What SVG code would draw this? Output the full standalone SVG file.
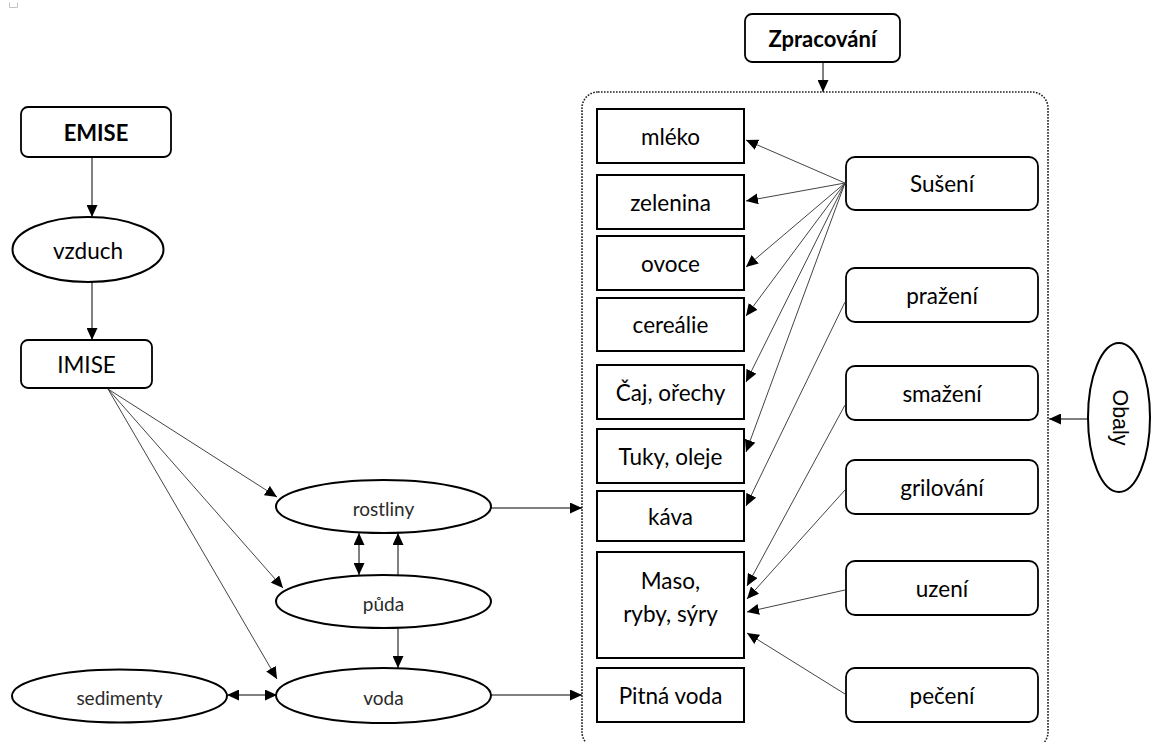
<svg xmlns="http://www.w3.org/2000/svg" width="1155" height="742" viewBox="0 0 1155 742">
  <style>
    .box { fill: #fff; stroke: #000; stroke-width: 2; }
    .rbox { fill: #fff; stroke: #000; stroke-width: 1.8; }
    .oval { fill: #fff; stroke: #000; stroke-width: 2; }
    .lbl { font-family: Lato, "Liberation Sans", sans-serif; font-size: 22.5px; fill: #000; text-anchor: middle; dominant-baseline: central; }
    .bold { font-weight: bold; font-size: 22px; }
    .small { font-size: 19px; fill: #2a2a2a; }
    .obaly { font-family: "Liberation Sans", Arial, sans-serif; font-size: 21.5px; fill: #000; text-anchor: middle; dominant-baseline: central; }
    .con { fill: none; stroke: #000; stroke-width: 1; }
    .thin { fill: none; stroke: #444; stroke-width: 1; }
    .frame { fill: none; stroke: #222; stroke-width: 1.6; stroke-dasharray: 1.6 1.4; }
  </style>
  <defs>
    <marker id="arr" markerUnits="userSpaceOnUse" markerWidth="12" markerHeight="11" refX="12" refY="5.5" orient="auto-start-reverse">
      <path d="M0,0 L12,5.5 L0,11 z" fill="#000"/>
    </marker>
  </defs>

  <rect width="1155" height="742" fill="#fff"/>
  <!-- small corner mark -->
  <path d="M9.5,2.5 V7.5 H17.5 V2.5" fill="none" stroke="#c4c4c4" stroke-width="1"/>

  <!-- processing frame -->
  <rect class="frame" x="582" y="92" width="466" height="656" rx="16"/>

  <!-- sources -->
  <g id="emise">
    <rect class="rbox" x="21" y="107" width="150" height="50" rx="7"/>
    <text class="lbl bold" x="96" y="132">EMISE</text>
  </g>
  <g id="vzduch">
    <ellipse class="oval" cx="88" cy="249.5" rx="75.5" ry="32.5"/>
    <text class="lbl" x="88" y="250">vzduch</text>
  </g>
  <g id="imise">
    <rect class="rbox" x="21" y="340" width="131" height="48" rx="7"/>
    <text class="lbl" x="86.5" y="364">IMISE</text>
  </g>
  <g id="rostliny">
    <ellipse class="oval" cx="383.5" cy="506.5" rx="107.5" ry="26.5"/>
    <text class="lbl small" x="383.5" y="508">rostliny</text>
  </g>
  <g id="puda">
    <ellipse class="oval" cx="383.5" cy="601.5" rx="107.5" ry="26.5"/>
    <text class="lbl small" x="383.5" y="603">půda</text>
  </g>
  <g id="sedimenty">
    <ellipse class="oval" cx="119.5" cy="696" rx="107.5" ry="26.5"/>
    <text class="lbl small" x="119.5" y="697">sedimenty</text>
  </g>
  <g id="voda">
    <ellipse class="oval" cx="383.5" cy="695.5" rx="107.5" ry="27.5"/>
    <text class="lbl small" x="383.5" y="697">voda</text>
  </g>

  <!-- processing header -->
  <g id="zpracovani">
    <rect class="rbox" x="745" y="14" width="155" height="48" rx="7"/>
    <text class="lbl bold" x="822.5" y="38">Zpracování</text>
  </g>

  <!-- food groups -->
  <g id="mleko">
    <rect class="box" x="597" y="109" width="147" height="54"/>
    <text class="lbl" x="670.5" y="136">mléko</text>
  </g>
  <g id="zelenina">
    <rect class="box" x="597" y="175" width="147" height="54"/>
    <text class="lbl" x="670.5" y="202">zelenina</text>
  </g>
  <g id="ovoce">
    <rect class="box" x="597" y="236" width="147" height="54"/>
    <text class="lbl" x="670.5" y="263">ovoce</text>
  </g>
  <g id="cerealie">
    <rect class="box" x="597" y="298" width="147" height="53"/>
    <text class="lbl" x="670.5" y="324.5">cereálie</text>
  </g>
  <g id="caj">
    <rect class="box" x="597" y="365" width="147" height="54"/>
    <text class="lbl" x="670.5" y="392">Čaj, ořechy</text>
  </g>
  <g id="tuky">
    <rect class="box" x="597" y="429" width="147" height="54"/>
    <text class="lbl" x="670.5" y="456">Tuky, oleje</text>
  </g>
  <g id="kava">
    <rect class="box" x="597" y="491" width="147" height="50"/>
    <text class="lbl" x="670.5" y="516">káva</text>
  </g>
  <g id="maso">
    <rect class="box" x="597" y="552" width="147" height="106"/>
    <text class="lbl" x="670.5" y="580">Maso,</text>
    <text class="lbl" x="670.5" y="613">ryby, sýry</text>
  </g>
  <g id="pitna">
    <rect class="box" x="597" y="668" width="147" height="54"/>
    <text class="lbl" x="670.5" y="695">Pitná voda</text>
  </g>

  <!-- processing methods -->
  <g id="suseni">
    <rect class="rbox" x="846" y="157" width="192" height="53" rx="9"/>
    <text class="lbl" x="942" y="183.5">Sušení</text>
  </g>
  <g id="prazeni">
    <rect class="rbox" x="846" y="268" width="192" height="54" rx="9"/>
    <text class="lbl" x="942" y="295">pražení</text>
  </g>
  <g id="smazeni">
    <rect class="rbox" x="846" y="366" width="192" height="54" rx="9"/>
    <text class="lbl" x="942" y="393">smažení</text>
  </g>
  <g id="grilovani">
    <rect class="rbox" x="846" y="460" width="192" height="54" rx="9"/>
    <text class="lbl" x="942" y="487">grilování</text>
  </g>
  <g id="uzeni">
    <rect class="rbox" x="846" y="561" width="192" height="54" rx="9"/>
    <text class="lbl" x="942" y="588">uzení</text>
  </g>
  <g id="peceni">
    <rect class="rbox" x="846" y="668" width="192" height="54" rx="9"/>
    <text class="lbl" x="942" y="695">pečení</text>
  </g>

  <!-- packaging -->
  <g id="obaly">
    <ellipse class="oval" cx="1119" cy="417.5" rx="31" ry="74.5"/>
    <text class="obaly" transform="translate(1120,417.5) rotate(90)">Obaly</text>
  </g>

  <!-- connectors -->
  <g id="connectors">
    <path class="con" d="M92,157 V217" marker-end="url(#arr)"/>
    <path class="con" d="M92,282 V340" marker-end="url(#arr)"/>
    <path class="thin" d="M108,389 L277,497" marker-end="url(#arr)"/>
    <path class="thin" d="M108,389 L283,588" marker-end="url(#arr)"/>
    <path class="thin" d="M108,389 L277,679" marker-end="url(#arr)"/>
    <path class="con" d="M359,533 V575" stroke-width="2" marker-start="url(#arr)" marker-end="url(#arr)"/>
    <path class="con" d="M398,575 V533" marker-end="url(#arr)"/>
    <path class="con" d="M398,628 V668" marker-end="url(#arr)"/>
    <path class="con" d="M227,695 H277" marker-start="url(#arr)" marker-end="url(#arr)"/>
    <path class="con" d="M491,508 H582" marker-end="url(#arr)"/>
    <path class="con" d="M491,695 H582" marker-end="url(#arr)"/>
    <path class="con" d="M823,62 V92" marker-end="url(#arr)"/>
    <path class="con" d="M1088,419 H1049" marker-end="url(#arr)"/>

    <path class="thin" d="M845,183 L746,140" marker-end="url(#arr)"/>
    <path class="thin" d="M845,183 L746,201" marker-end="url(#arr)"/>
    <path class="thin" d="M845,183 L746,267" marker-end="url(#arr)"/>
    <path class="thin" d="M845,183 L746,316" marker-end="url(#arr)"/>
    <path class="thin" d="M845,183 L746,382" marker-end="url(#arr)"/>
    <path class="thin" d="M845,183 L746,452" marker-end="url(#arr)"/>
    <path class="thin" d="M845,302 L746,506" marker-end="url(#arr)"/>
    <path class="thin" d="M845,405 L747,586" marker-end="url(#arr)"/>
    <path class="thin" d="M845,490 L747,599" marker-end="url(#arr)"/>
    <path class="thin" d="M845,590 L747,612" marker-end="url(#arr)"/>
    <path class="thin" d="M845,694 L747,633" marker-end="url(#arr)"/>
  </g>
</svg>
